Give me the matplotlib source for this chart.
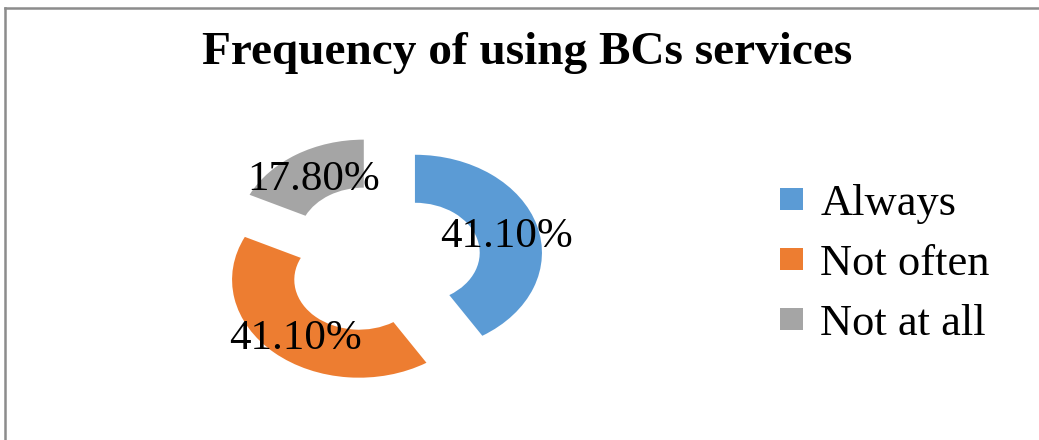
import matplotlib
matplotlib.use("Agg")
import matplotlib.pyplot as plt
from matplotlib.lines import Line2D

# chart data
categories = ["Always", "Not often", "Not at all"]
shares = [41.10, 41.10, 17.80]
colors = ["#5B9BD5", "#ED7D31", "#A5A5A5"]
title = "Frequency of using BCs services"

plt.rcParams['font.family'] = ['Liberation Serif', 'DejaVu Serif']

fig = plt.figure(figsize=(10.39, 4.40), dpi=100)
fig.patch.set_facecolor("white")

# donut (stretched horizontally like the source)
ax = fig.add_axes([0.1843, 0.075, 0.3667, 0.668])
wedges, texts, autotexts = ax.pie(
    shares, colors=colors, startangle=90, counterclock=False,
    explode=[0.27] * len(shares), autopct="%.2f%%", pctdistance=0.75,
    wedgeprops=dict(width=0.49, linewidth=0),
    textprops=dict(fontsize=31, color="black"))
for t in autotexts:
    t.set_va("center_baseline")
ax.set_aspect("auto")
ax.set_xlim(-1.5, 1.5)
ax.set_ylim(-1.5, 1.5)
ax.axis("off")

fig.text(0.507, 0.855, title, ha="center", va="baseline",
         fontsize=34, fontweight="bold")

fig.legend(wedges, categories, loc="center left",
           bbox_to_anchor=(780 / 1039, 0.40), frameon=False,
           fontsize=32, handlelength=0.52, handleheight=0.41,
           handletextpad=0.39, labelspacing=0.45, borderpad=0,
           borderaxespad=0)

# outer frame: only top and left edges are visible
fig.add_artist(Line2D([5 / 1039, 1], [1 - 8 / 440, 1 - 8 / 440],
                      transform=fig.transFigure, color="#8c8c8c", lw=1.8))
fig.add_artist(Line2D([5 / 1039, 5 / 1039], [0, 1 - 8 / 440],
                      transform=fig.transFigure, color="#8c8c8c", lw=1.8))

fig.savefig("out.png", dpi=100)
